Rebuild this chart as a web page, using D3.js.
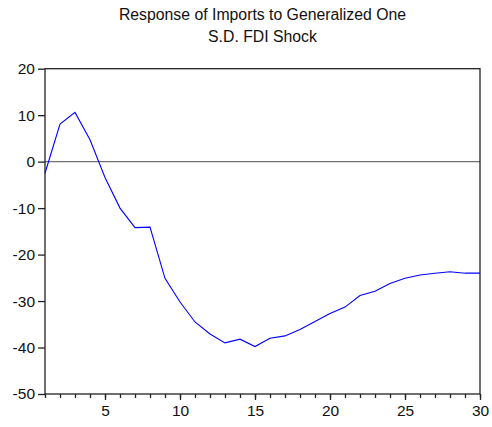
<!DOCTYPE html>
<html><head><meta charset="utf-8">
<script src="https://cdn.jsdelivr.net/npm/d3@7"></script>
<style>body{margin:0;background:#fff;}svg{display:block;}</style>
</head><body>
<svg id="c" width="492" height="427"></svg>
<script>
const titleLines = ["Response of Imports to Generalized One", "S.D. FDI Shock"];
const periods = d3.range(1, 31);
const response = [-2.5, 8.1, 10.6, 4.7, -3.4, -10.0, -14.2, -14.1, -25.1, -30.2,
  -34.5, -37.1, -39.0, -38.2, -39.8, -38.0, -37.5, -36.1, -34.4, -32.7,
  -31.3, -28.8, -27.9, -26.2, -25.1, -24.4, -24.0, -23.7, -24.0, -24.0];
const yTicks = [20, 10, 0, -10, -20, -30, -40, -50];
const xMajor = [5, 10, 15, 20, 25, 30];

const L = 45, R = 480, T = 68.7, B = 394;
const svg = d3.select("#c");
const x = d3.scaleLinear().domain([1, 30]).range([L, R]);
const y = d3.scaleLinear().domain([-50, 20]).range([B, T]);
const font = "'Liberation Sans', Arial, sans-serif";

svg.append("g").selectAll("text").data(titleLines).join("text")
  .attr("x", (L + R) / 2).attr("y", (d, i) => 20 + i * 21.5)
  .attr("text-anchor", "middle").attr("font-family", font).attr("font-size", 15.8)
  .attr("fill", "#111").text(d => d);

// zero line
svg.append("line").attr("x1", L).attr("x2", R).attr("y1", y(0)).attr("y2", y(0))
  .attr("stroke", "#707070").attr("stroke-width", 1.3);

// frame
svg.append("rect").attr("x", L).attr("y", T).attr("width", R - L).attr("height", B - T)
  .attr("fill", "none").attr("stroke", "#222").attr("stroke-width", 1.3);

// y axis
const ya = svg.append("g").attr("transform", `translate(${L},0)`)
  .call(d3.axisLeft(y).tickValues(yTicks).tickSize(7).tickPadding(3).tickFormat(d => String(d)));
ya.select(".domain").remove();
ya.selectAll("line").attr("stroke", "#222").attr("stroke-width", 1.3);
ya.selectAll("text").attr("font-family", font).attr("font-size", 15.5).attr("fill", "#111");

// x axis minor
const xm = svg.append("g").attr("transform", `translate(0,${B})`)
  .call(d3.axisBottom(x).tickValues(periods).tickSize(4).tickFormat(""));
xm.select(".domain").remove();
xm.selectAll("line").attr("stroke", "#222").attr("stroke-width", 1.3);
const xa = svg.append("g").attr("transform", `translate(0,${B})`)
  .call(d3.axisBottom(x).tickValues(xMajor).tickSize(6).tickPadding(5).tickFormat(d => String(d)));
xa.select(".domain").remove();
xa.selectAll("line").attr("stroke", "#222").attr("stroke-width", 1.3);
xa.selectAll("text").attr("font-family", font).attr("font-size", 15.5).attr("fill", "#111");

// line
svg.append("path").datum(response)
  .attr("d", d3.line().x((d, i) => x(periods[i])).y(d => y(d)))
  .attr("fill", "none").attr("stroke", "#0000ff").attr("stroke-width", 1.1);
</script>
</body></html>
